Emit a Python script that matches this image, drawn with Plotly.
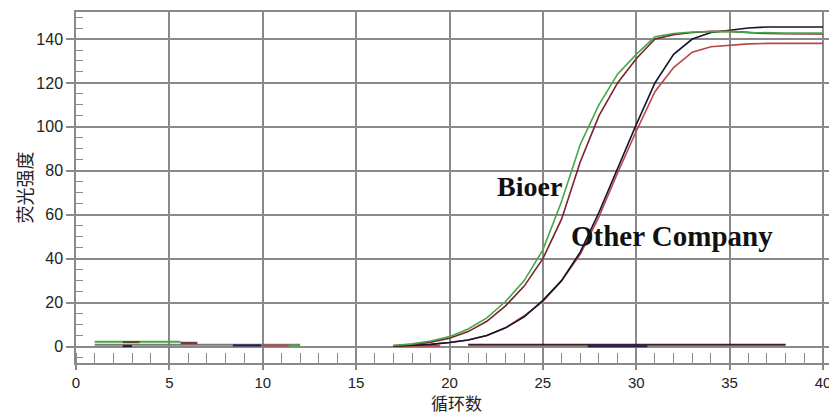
import plotly.graph_objects as go

# ---- data ----
cycles = list(range(17, 41))

bioer_green = [0.5, 1.2, 2.5, 4.5, 8, 13, 20.5, 30, 44, 66, 92, 110, 124, 133, 141,
               142.5, 143.2, 143.5, 143.5, 143, 142.7, 142.7, 142.7, 142.7]
bioer_darkred = [0.3, 0.9, 2, 3.8, 6.8, 11.5, 18.5, 27.5, 40, 58, 84, 105, 120, 131, 140,
                 142, 143, 143.5, 143.5, 143, 142.5, 142.4, 142.4, 142.3]
other_black = [0.2, 0.5, 1, 1.8, 3, 5, 8.5, 13.5, 21, 30, 43, 61, 81, 101, 120,
               133, 140, 143, 144, 145, 145.5, 145.5, 145.5, 145.5]
other_red = [0.2, 0.5, 1, 1.8, 3, 5, 8.5, 14, 20.5, 30, 42, 59, 79, 98, 116,
             127, 134, 136.5, 137.3, 137.8, 138, 138, 138, 138]

# negative-control / baseline segments (cycles, values)
ntc_cycles = [21, 38]
ntc_values = [0.8, 0.8]
ntc_blue_cycles = [27.4, 30.6]
ntc_blue_values = [0.1, 0.1]
ntc_start_cycles = [17, 19.5]
ntc_start_values = [0.3, 0.3]

base_gray_cycles = [1, 12]
base_gray_values = [0.8, 0.8]
base_green_cycles = [1, 5.6]
base_green_values = [2.2, 2.2]
base_olive_cycles = [2.5, 3.4]
base_olive_values = [2.0, 2.0]
base_navy1_cycles = [2.5, 3.0]
base_navy1_values = [0.2, 0.2]
base_maroon_cycles = [5.6, 6.5]
base_maroon_values = [1.6, 1.6]
base_navy2_cycles = [8.4, 9.9]
base_navy2_values = [0.5, 0.5]
base_red_cycles = [9.9, 11.4]
base_red_values = [0.4, 0.4]
base_green2_cycles = [11.4, 12.0]
base_green2_values = [0.4, 0.4]

y_ticks = [0, 20, 40, 60, 80, 100, 120, 140]
x_ticks = [0, 5, 10, 15, 20, 25, 30, 35, 40]

GREEN = "#45a845"
DARKRED = "#7a2230"
BLACK = "#14142e"
RED = "#b8464a"
NAVY = "#1c1c5a"
GRAY = "#8a8a8a"

fig = go.Figure()


def add(x, y, color, width=1.6):
    fig.add_trace(go.Scatter(x=x, y=y, mode="lines", line=dict(color=color, width=width),
                             showlegend=False, hoverinfo="skip"))


add(base_gray_cycles, base_gray_values, "#7a7a7a", 2)
add(base_green_cycles, base_green_values, GREEN, 2)
add(base_olive_cycles, base_olive_values, "#5a4a1a", 2)
add(base_navy1_cycles, base_navy1_values, NAVY, 2)
add(base_maroon_cycles, base_maroon_values, "#7a3a3a", 2.5)
add(base_navy2_cycles, base_navy2_values, NAVY, 2)
add(base_red_cycles, base_red_values, RED, 2)
add(base_green2_cycles, base_green2_values, GREEN, 2)

add(ntc_start_cycles, ntc_start_values, RED, 2)
add(ntc_cycles, ntc_values, "#4a1a24", 2)
add(ntc_blue_cycles, ntc_blue_values, NAVY, 2)

add(cycles, other_red, RED)
add(cycles, other_black, BLACK)
add(cycles, bioer_darkred, DARKRED)
add(cycles, bioer_green, GREEN)

tickfont = dict(family="Liberation Sans, Arial, sans-serif", size=16, color="#222222")
xtickfont = dict(family="Liberation Sans, Arial, sans-serif", size=15, color="#222222")
cjk = dict(family="Noto Sans CJK SC", size=18, color="#222222")
cjk_x = dict(family="Noto Sans CJK SC", size=17, color="#222222")

# the page body adds an 8px offset, so the figure is sized to fill the rest of the window
fig.update_layout(
    width=829, height=406,
    margin=dict(l=68, r=0, t=4, b=51, autoexpand=False),
    paper_bgcolor="white", plot_bgcolor="white",
    xaxis=dict(
        range=[0, 40.75], tickvals=x_ticks, ticktext=[str(v) for v in x_ticks],
        showgrid=True, gridcolor=GRAY, gridwidth=1.5,
        showline=True, linecolor=GRAY, linewidth=1.5, mirror=True,
        ticks="outside", ticklen=5, tickcolor=GRAY, tickwidth=1.5,
        minor=dict(dtick=1, tick0=0, ticks="inside", ticklen=10, tickcolor=GRAY,
                   tickwidth=1.2, showgrid=False),
        zeroline=False, tickfont=xtickfont, automargin=False,
    ),
    yaxis=dict(
        range=[-7.5, 152.3], tickvals=y_ticks, ticktext=[str(v) for v in y_ticks],
        showgrid=True, gridcolor=GRAY, gridwidth=1.5,
        showline=True, linecolor=GRAY, linewidth=1.5,
        ticks="outside", ticklen=8, tickcolor=GRAY, tickwidth=1.5,
        minor=dict(dtick=5, tick0=0, ticks="inside", ticklen=7, tickcolor=GRAY,
                   tickwidth=1.2, showgrid=False),
        zeroline=False, tickfont=tickfont, automargin=False,
    ),
    annotations=[
        dict(x=24.3, y=73, text="<b>Bioer</b>", showarrow=False,
             font=dict(family="Liberation Serif, Times New Roman, serif", size=28, color="#111111")),
        dict(x=31.9, y=50.2, text="<b>Other Company</b>", showarrow=False,
             font=dict(family="Liberation Serif, Times New Roman, serif", size=29, color="#111111")),
        dict(xref="paper", yref="paper", x=0.5, y=0, yanchor="middle", yshift=-39,
             text="循环数", showarrow=False, font=cjk_x),
        dict(xref="paper", yref="paper", x=0, y=0.5, xanchor="center", xshift=-53,
             text="荧光强度", textangle=-90, showarrow=False, font=cjk),
    ],
)

fig.write_html("out.html")
